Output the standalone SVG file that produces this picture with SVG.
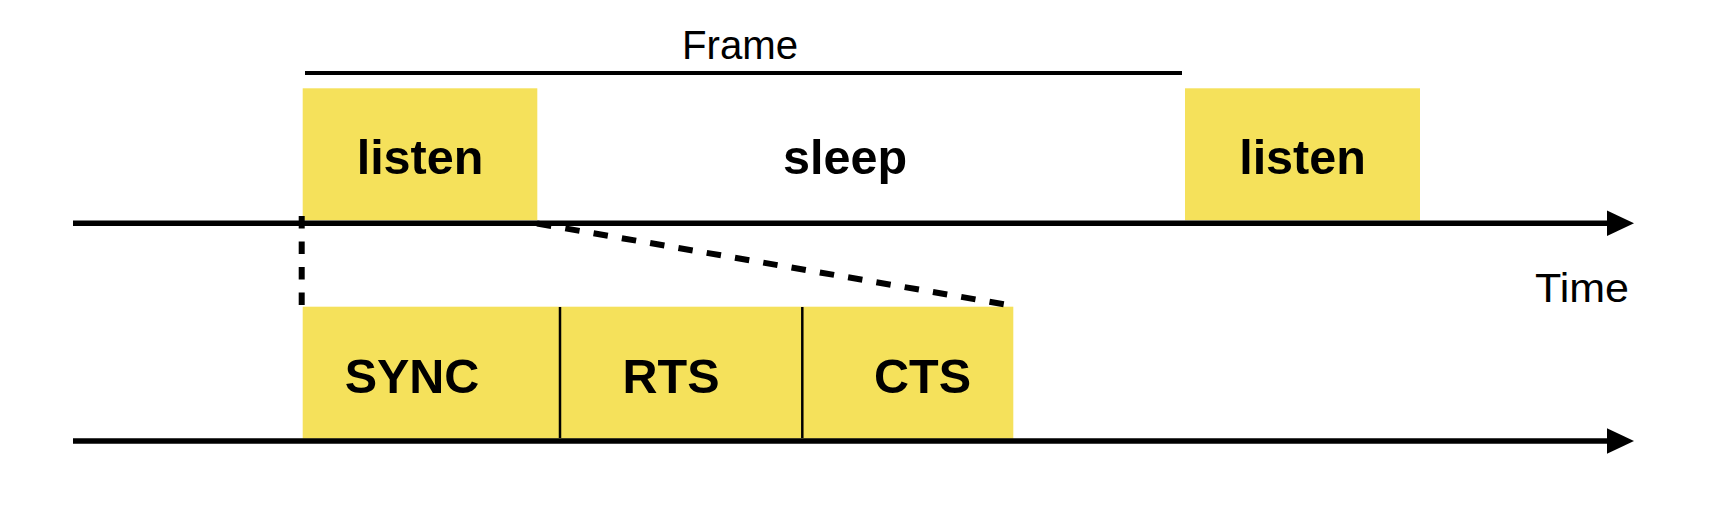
<svg xmlns="http://www.w3.org/2000/svg" width="1726" height="510" viewBox="0 0 1726 510">
  <style>
    .box { fill: #F5E15B; }
    .lbl { font-family: "Liberation Sans", Arial, sans-serif; font-weight: bold; font-size: 48.5px; fill: #000; text-anchor: middle; }
    .txt { font-family: "Liberation Sans", Arial, sans-serif; font-size: 40px; fill: #000; text-anchor: middle; }
    .axis { stroke: #000; stroke-width: 5.5; fill: none; }
    .dash { stroke: #000; stroke-width: 6; fill: none; }
  </style>
  <rect width="1726" height="510" fill="#ffffff"/>

  <g id="frame">
    <line x1="305" y1="73" x2="1182" y2="73" stroke="#000" stroke-width="4"/>
    <text class="txt" x="740" y="58.5" textLength="116" lengthAdjust="spacingAndGlyphs">Frame</text>
  </g>

  <g id="listen1">
    <rect class="box" x="302.7" y="88.3" width="234.6" height="132"/>
    <text class="lbl" x="420" y="174">listen</text>
  </g>
  <g id="sleep">
    <text class="lbl" x="845" y="174">sleep</text>
  </g>
  <g id="listen2">
    <rect class="box" x="1185" y="88.3" width="235" height="132"/>
    <text class="lbl" x="1302.5" y="174">listen</text>
  </g>

  <g id="detail">
    <rect class="box" x="302.7" y="306.7" width="710.6" height="132"/>
    <line x1="560" y1="307" x2="560" y2="438" stroke="#000" stroke-width="2.5"/>
    <line x1="802.3" y1="307" x2="802.3" y2="438" stroke="#000" stroke-width="2.5"/>
  </g>
  <g id="sync"><text class="lbl" x="412" y="392.5">SYNC</text></g>
  <g id="rts"><text class="lbl" x="671" y="392.5">RTS</text></g>
  <g id="cts"><text class="lbl" x="922.5" y="392.5">CTS</text></g>

  <g id="time">
    <text class="txt" x="1582" y="301.5" textLength="94" lengthAdjust="spacingAndGlyphs">Time</text>
  </g>

  <g id="connectors">
    <line class="axis" x1="73" y1="223.3" x2="1610" y2="223.3"/>
    <polygon points="1607,210.5 1634,223.3 1607,236" fill="#000"/>
    <line class="axis" x1="73" y1="441" x2="1610" y2="441"/>
    <polygon points="1607,428.2 1634,441 1607,453.8" fill="#000"/>
    <line class="dash" x1="301.7" y1="216" x2="301.7" y2="306" stroke-dasharray="12.5 13"/>
    <line class="dash" x1="537" y1="223.5" x2="1011" y2="305.5" stroke-dasharray="14.5 14.2"/>
  </g>
</svg>
